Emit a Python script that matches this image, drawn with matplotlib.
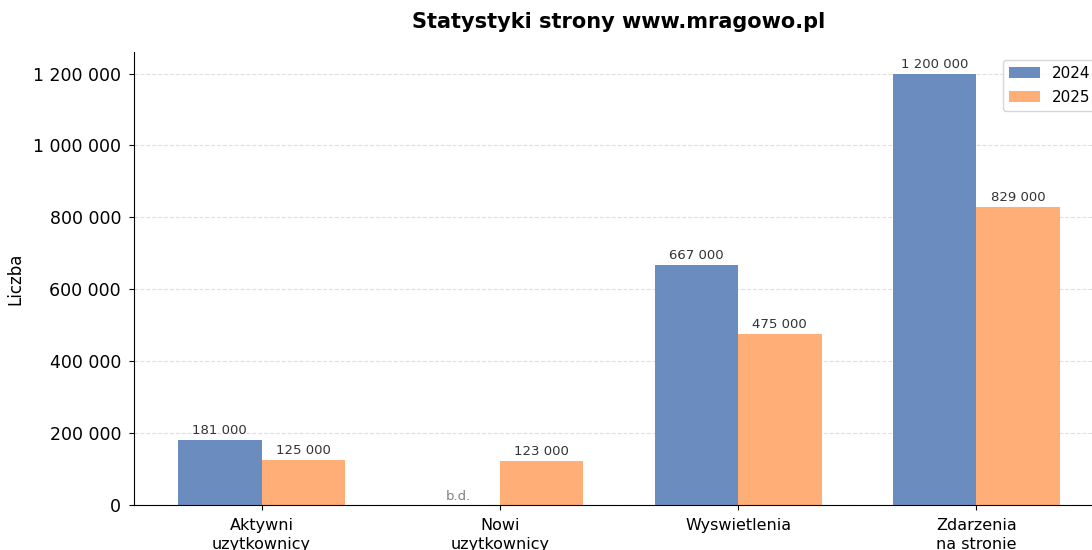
import numpy as np
import matplotlib
matplotlib.use("Agg")
import matplotlib.pyplot as plt
from matplotlib.ticker import FuncFormatter

categories = ["Aktywni\nuzytkownicy", "Nowi\nuzytkownicy", "Wyswietlenia", "Zdarzenia\nna stronie"]
values_2024 = [181000, None, 667000, 1200000]
values_2025 = [125000, 123000, 475000, 829000]
series_names = ["2024", "2025"]


def fmt(v):
    return f"{v:,.0f}".replace(",", " ")


fig = plt.figure(figsize=(10.92, 5.5), dpi=100)
ax = fig.add_axes([134 / 1092, 45 / 550, 970 / 1092, 453 / 550])

x = np.arange(len(categories))
width = 0.35
blue = "#6A8CBF"
orange = "#FFAE78"

h24 = [v if v is not None else 0 for v in values_2024]
b1 = ax.bar(x - width / 2, h24, width, color=blue, label=series_names[0])
b2 = ax.bar(x + width / 2, values_2025, width, color=orange, label=series_names[1])

for rect, v in zip(b1, values_2024):
    cx = rect.get_x() + rect.get_width() / 2
    if v is None:
        ax.text(cx, 5000, "b.d.", ha="center", va="bottom", fontsize=9.5, color="gray")
    else:
        ax.annotate(fmt(v), (cx, v), xytext=(0, 2), textcoords="offset points",
                    ha="center", va="bottom", fontsize=9.5, color="#333333")
for rect, v in zip(b2, values_2025):
    cx = rect.get_x() + rect.get_width() / 2
    ax.annotate(fmt(v), (cx, v), xytext=(0, 2), textcoords="offset points",
                ha="center", va="bottom", fontsize=9.5, color="#333333")

ax.set_ylim(0, max(values_2025 + [v for v in values_2024 if v]) * 1.05)
ax.yaxis.set_major_formatter(FuncFormatter(lambda v, p: fmt(v)))
ax.set_xticks(x)
ax.set_xticklabels(categories, fontsize=11.5, linespacing=1.35)
ax.tick_params(axis="y", labelsize=12.5, pad=5.8)
ax.tick_params(axis="x", pad=6)
ax.set_ylabel("Liczba", fontsize=12, labelpad=6)
ax.set_title("Statystyki strony www.mragowo.pl", fontsize=15, fontweight="bold", pad=17)
ax.grid(axis="y", linestyle="--", alpha=0.4)
ax.set_axisbelow(True)
ax.spines["top"].set_visible(False)
ax.spines["right"].set_visible(False)
ax.legend(loc="upper right", fontsize=11, labelspacing=0.6)

fig.savefig("out.png", dpi=100)
